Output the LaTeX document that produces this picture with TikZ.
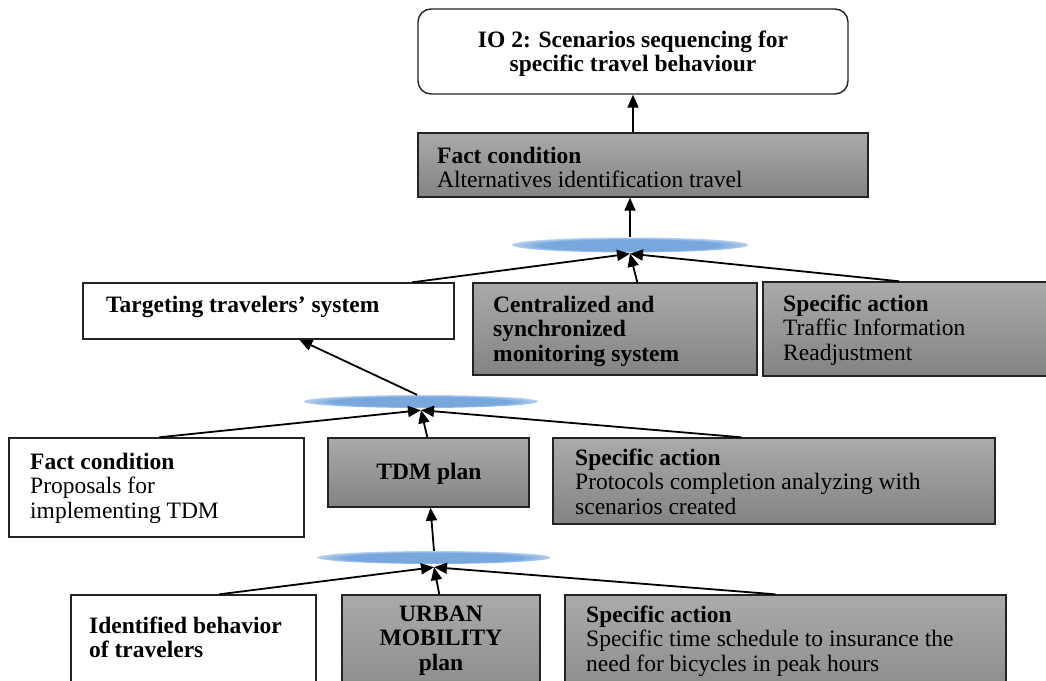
\documentclass[tikz,border=0pt]{standalone}
\usepackage{fontspec}
\setmainfont{Liberation Serif}
\usetikzlibrary{arrows.meta,shapes.geometric,fit}

\definecolor{boxtop}{RGB}{168,170,172}
\definecolor{boxbot}{RGB}{130,131,133}
\definecolor{edge}{RGB}{35,35,35}
\definecolor{hubblue}{RGB}{120,167,222}

% soft blue fill for the junction ellipses
\pgfdeclareradialshading{hubshade}{\pgfpoint{0bp}{0bp}}{%
  color(0bp)=(hubblue); color(19bp)=(hubblue);
  color(25bp)=(hubblue!55!white); color(50bp)=(white)}

% stacked lines, baseline on the first line
\newcommand\stackL[1]{\vtop{\halign{##\hfil\cr#1\crcr}}}
\newcommand\stackC[1]{\vtop{\halign{\hfil##\hfil\cr#1\crcr}}}

\tikzset{
  whitebox/.style={draw=edge, line width=1.4pt, fill=white, inner sep=0pt},
  graybox/.style={draw=edge, line width=1.4pt, top color=boxtop, bottom color=boxbot, inner sep=0pt},
  goalbox/.style={draw=edge, line width=1.4pt, fill=white, rounded corners=13pt, inner sep=0pt},
  hub/.style={ellipse, shading=hubshade, draw=none, inner sep=0pt},
  link/.style={-{Triangle[length=13pt,width=11pt]}, line width=1.8pt, draw=black},
  lbl/.style={inner sep=0pt, anchor=base west},
  clbl/.style={inner sep=0pt, anchor=base},
}

\begin{document}
\begin{tikzpicture}[x=1pt, y=-1pt, font=\fontsize{23.5}{24.5}\selectfont]
\useasboundingbox (0,0) rectangle (1046,680);
\clip (0,0) rectangle (1046,680);
\fill[white] (0,0) rectangle (1046,680);

% ---- boxes ----
\node[goalbox, fit={(418,9) (848,94)}] (goal) {};
\node[graybox, fit={(418,133) (868,197)}] (alt) {};

\node[whitebox, fit={(83,283) (454,339)}] (tgt) {};
\node[graybox, fit={(473,283) (757,375)}] (cen) {};
\node[graybox, fit={(763,282) (1070,376)}] (trf) {};

\node[whitebox, fit={(9,438) (304,537)}] (prop) {};
\node[graybox, fit={(328,438) (529,507)}] (tdm) {};
\node[graybox, fit={(553,438) (995,524)}] (prot) {};

\node[whitebox, fit={(71,595) (316,720)}] (idb) {};
\node[graybox, fit={(342,595) (540,720)}] (urb) {};
\node[graybox, fit={(565,595) (1006,720)}] (bic) {};

% ---- junction ellipses ----
\node[hub, minimum width=236pt, minimum height=15pt] (h1) at (630,245) {};
\node[hub, minimum width=234pt, minimum height=13pt] (h2) at (421,401.5) {};
\node[hub, minimum width=233pt, minimum height=13pt] (h3) at (434,557.5) {};

\coordinate (m1) at ([yshift=-1pt]h1.south);
\coordinate (m2) at ([yshift=-2pt]h2.south);
\coordinate (m3) at ([yshift=-3pt]h3.south);

% ---- texts ----
\node[clbl] (t-goal) at (633,47) {\stackC{\textbf{IO 2: Scenarios sequencing for}\cr \textbf{specific travel behaviour}}};
\node[lbl] (t-alt) at (437,163) {\stackL{\textbf{Fact condition}\cr Alternatives identification travel}};

\node[lbl] (t-tgt) at (106,312) {\textbf{Targeting travelers’ system}};
\node[lbl] (t-cen) at (493,312) {\stackL{\textbf{Centralized and}\cr \textbf{synchronized}\cr \textbf{monitoring system}}};
\node[lbl] (t-trf) at (783,311) {\stackL{\textbf{Specific action}\cr Traffic Information\cr Readjustment}};

\node[lbl] (t-prop) at (30,469) {\stackL{\textbf{Fact condition}\cr Proposals for\cr implementing TDM}};
\node[clbl] (t-tdm) at (429,479) {\textbf{TDM plan}};
\node[lbl] (t-prot) at (575,465) {\stackL{\textbf{Specific action}\cr Protocols completion analyzing with\cr scenarios created}};

\node[lbl] (t-idb) at (89,633) {\stackL{\textbf{Identified behavior}\cr \textbf{of travelers}}};
\node[clbl] (t-urb) at (441,621) {\stackC{\textbf{URBAN}\cr \textbf{MOBILITY}\cr \textbf{plan}}};
\node[lbl] (t-bic) at (586,622) {\stackL{\textbf{Specific action}\cr Specific time schedule to insurance the\cr need for bicycles in peak hours}};

% ---- connectors ----
\draw[link] (alt.north -| goal.south) -- (goal.south);
\draw[link] (h1.north) -- (h1.north |- alt.south);

\draw[link] ([xshift=330pt]tgt.north west) -- (m1);
\draw[link] ([xshift=137pt]trf.north west) -- (m1);
\draw[link] ([xshift=165pt]cen.north west) -- (m1);

\draw[link] ([xshift=-4pt]h2.north) -- ([xshift=217pt]tgt.south west);

\draw[link] ([xshift=151pt]prop.north west) -- (m2);
\draw[link] ([xshift=189pt]prot.north west) -- (m2);
\draw[link] ([xshift=100pt]tdm.north west) -- (m2);

\draw[link] (h3.north) -- ([xshift=2pt]tdm.south);

\draw[link] ([xshift=149pt]idb.north west) -- (m3);
\draw[link] ([xshift=211pt]bic.north west) -- (m3);
\draw[link] ([xshift=98pt]urb.north west) -- (m3);
\end{tikzpicture}
\end{document}
